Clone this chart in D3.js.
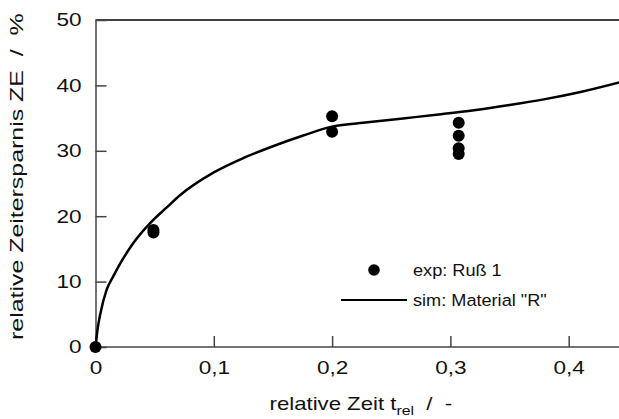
<!DOCTYPE html>
<html>
<head>
<meta charset="utf-8">
<script src="https://cdn.jsdelivr.net/npm/d3@7"></script>
<style>
  html, body { margin: 0; padding: 0; background: #fff; }
  svg { display: block; font-family: "Liberation Sans", Arial, sans-serif; }
</style>
</head>
<body>
<svg id="chart" width="619" height="419"></svg>
<script>
// Measured points (relative time, relative time saving in %)
const expTime  = [0, 0.049, 0.049, 0.2, 0.2, 0.307, 0.307, 0.307, 0.307];
const expSaving = [0, 17.5, 17.9, 35.3, 32.9, 34.3, 32.3, 30.4, 29.5];

// Simulated curve for material "R"
const simTime = [0, 0.002, 0.004, 0.0095, 0.015, 0.0207, 0.032, 0.046, 0.06, 0.0714,
                 0.1, 0.125, 0.15, 0.175, 0.2, 0.23, 0.26, 0.29, 0.32, 0.35,
                 0.38, 0.41, 0.45];
const simSaving = [0, 3, 5, 8.8, 10.8, 12.7, 15.9, 18.9, 21.3, 23.2,
                   26.7, 28.9, 30.7, 32.3, 33.7, 34.35, 34.95, 35.55, 36.2, 37.0,
                   37.9, 39.0, 40.8];

const xTicks = [0, 0.1, 0.2, 0.3, 0.4];
const yTicks = [0, 10, 20, 30, 40, 50];
const legendLabels = ['exp: Ruß 1', 'sim: Material "R"'];

const svg = d3.select('#chart');
const x = d3.scaleLinear().domain([0, 0.45]).range([95.5, 95.5 + 0.45 * 1183]);
const y = d3.scaleLinear().domain([0, 50]).range([347, 20]);
const fmt = d => d === 0 ? '0' : String(d).replace('.', ',');

const axisColor = '#444';
const tickStretch = 1.22;   // labels are drawn horizontally widened

// top border
svg.append('line')
  .attr('x1', x(0)).attr('x2', 619)
  .attr('y1', y(50)).attr('y2', y(50))
  .attr('stroke', '#000').attr('stroke-width', 1.5);

// x axis, ticks pointing into the plot
const gx = svg.append('g')
  .attr('transform', `translate(0,${y(0)})`)
  .call(d3.axisBottom(x).tickValues(xTicks).tickSize(-11).tickSizeOuter(0).tickFormat(fmt));
gx.select('.domain').attr('stroke', axisColor).attr('stroke-width', 1.5).attr('d', `M${x(0)},0H619`);
gx.selectAll('.tick line').attr('stroke', axisColor).attr('stroke-width', 1.5);
gx.selectAll('.tick text').attr('fill', '#111').attr('font-size', 18.5)
  .attr('font-family', '"Liberation Sans", Arial, sans-serif')
  .attr('y', 14).attr('dy', '0.71em')
  .attr('transform', `scale(${tickStretch},1)`);

// y axis, ticks pointing into the plot
const gy = svg.append('g')
  .attr('transform', `translate(${x(0)},0)`)
  .call(d3.axisLeft(y).tickValues(yTicks).tickSize(-11).tickSizeOuter(0).tickFormat(fmt));
gy.select('.domain').attr('stroke', axisColor).attr('stroke-width', 1.5);
gy.selectAll('.tick line').attr('stroke', axisColor).attr('stroke-width', 1.5);
gy.selectAll('.tick text').attr('fill', '#111').attr('font-size', 18.5)
  .attr('font-family', '"Liberation Sans", Arial, sans-serif')
  .attr('x', -14 / tickStretch)
  .attr('transform', `scale(${tickStretch},1)`);

// simulated curve
const line = d3.line().x(d => x(d[0])).y(d => y(d[1])).curve(d3.curveMonotoneX);
const simData = simTime.map((t, i) => [t, simSaving[i]]);
svg.append('defs').append('clipPath').attr('id', 'clip')
  .append('rect').attr('x', 0).attr('y', 0).attr('width', 619).attr('height', 419);
svg.append('path')
  .datum(simData)
  .attr('clip-path', 'url(#clip)')
  .attr('fill', 'none').attr('stroke', '#000').attr('stroke-width', 2.5)
  .attr('d', line);

// measured points
const expData = expTime.map((t, i) => [t, expSaving[i]]);
svg.append('g').selectAll('circle').data(expData).join('circle')
  .attr('cx', d => x(d[0])).attr('cy', d => y(d[1])).attr('r', 6).attr('fill', '#000');

// legend
const legendStretch = 1.1;
const lg = svg.append('g');
lg.append('circle').attr('cx', 374).attr('cy', 270).attr('r', 5.8).attr('fill', '#000');
lg.append('line').attr('x1', 341).attr('x2', 407).attr('y1', 300).attr('y2', 300)
  .attr('stroke', '#000').attr('stroke-width', 2);
lg.selectAll('text').data(legendLabels).join('text')
  .attr('x', 413 / legendStretch).attr('y', (d, i) => 270 + i * 30).attr('dy', '0.35em')
  .attr('transform', `scale(${legendStretch},1)`)
  .attr('font-size', 16.5).attr('fill', '#111').text(d => d);

// horizontal stretch factor that makes a text element span the given length
function fitLength(sel, target) {
  return target / sel.node().getBBox().width;
}

// x axis title
const xt = svg.append('text').attr('font-size', 17.5).attr('fill', '#111');
xt.append('tspan').text('relative Zeit t');
xt.append('tspan').attr('font-size', 12.5).attr('dy', 5).text('rel');
xt.append('tspan').attr('dy', -5).text('\u00a0 /\u00a0 -');
{
  const w = xt.node().getBBox().width;
  const s = fitLength(xt, 183);
  xt.attr('transform', `translate(${361 - w * s / 2},410) scale(${s},1)`);
}

// y axis title
const yt = svg.append('text').attr('font-size', 17.5).attr('fill', '#111')
  .text('relative Zeitersparnis ZE\u00a0 /\u00a0 %');
{
  const w = yt.node().getBBox().width;
  const s = fitLength(yt, 327);
  yt.attr('transform', `translate(23,${176.5 + w * s / 2}) rotate(-90) scale(${s},1)`);
}
</script>
</body>
</html>
